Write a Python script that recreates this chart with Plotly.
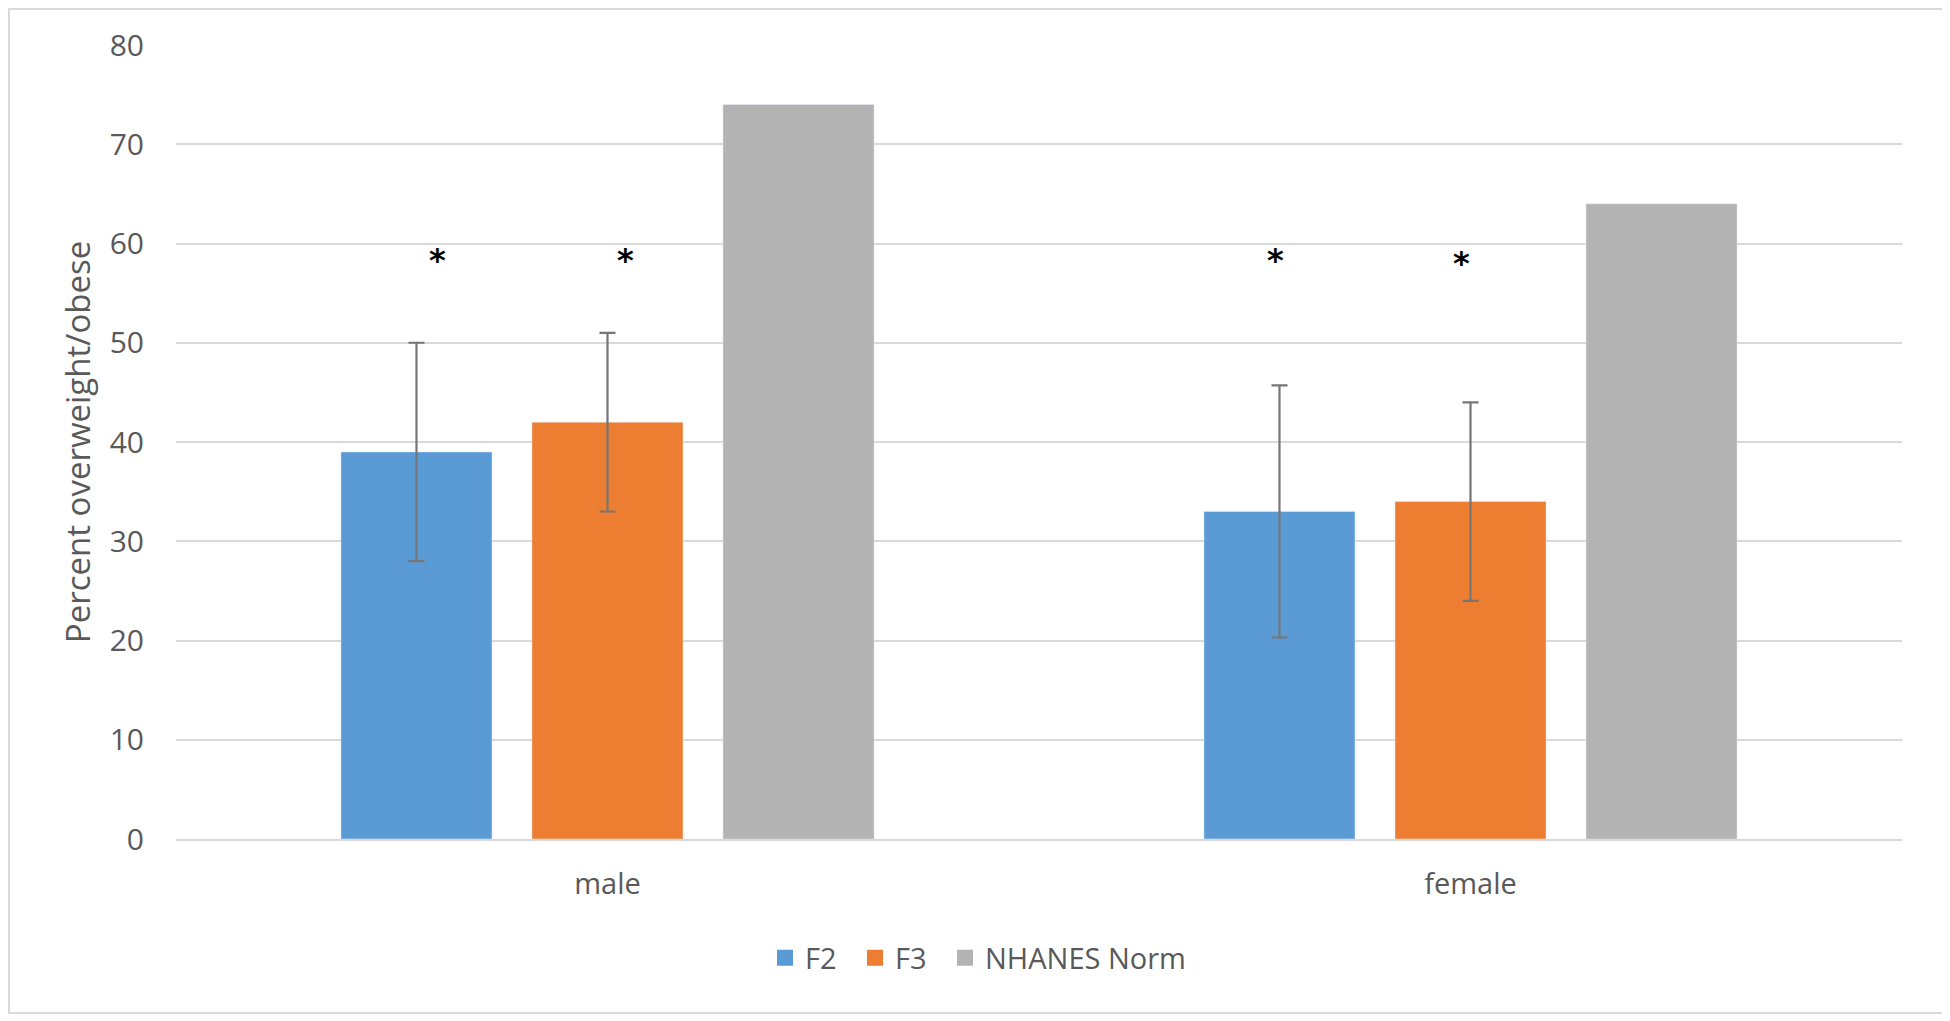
import plotly.graph_objects as go

categories = ["male", "female"]
series_names = ["F2", "F3", "NHANES Norm"]
f2_values = [39, 33]
f2_errors = [11, 12.7]
f3_values = [42, 34]
f3_errors = [9, 10]
nhanes_values = [74, 64]
colors = ["#5B9BD5", "#ED7D31", "#B3B3B3"]

# asterisk markers: (category, pixel shift from category centre, y value)
star_cat = ["male", "male", "female", "female"]
star_shift = [-170, 18, -195, -9]
star_y = [58.3, 58.3, 58.3, 58.0]

BODY = 8  # default page margin of the html body
W, H = 1950 - BODY, 1021 - BODY
ml, mr, mt, mb = 176 - BODY, 48, 45 - BODY, 182
pw, ph = W - ml - mr, H - mt - mb

font_family = "Open Sans, Segoe UI, sans-serif"
txt_col = "#595959"
err_col = "#767676"

fig = go.Figure()
fig.add_trace(go.Bar(name=series_names[0], x=categories, y=f2_values, marker_color=colors[0],
                     showlegend=False,
                     error_y=dict(type="data", array=f2_errors, visible=True, color=err_col,
                                  thickness=2.2, width=8)))
fig.add_trace(go.Bar(name=series_names[1], x=categories, y=f3_values, marker_color=colors[1],
                     showlegend=False,
                     error_y=dict(type="data", array=f3_errors, visible=True, color=err_col,
                                  thickness=2.2, width=8)))
fig.add_trace(go.Bar(name=series_names[2], x=categories, y=nhanes_values, marker_color=colors[2],
                     showlegend=False))

# legend entries with larger square swatches, one legend per entry for exact spacing
legend_ids = ["legend", "legend2", "legend3"]
for name, col, lid in zip(series_names, colors, legend_ids):
    fig.add_trace(go.Scatter(name=name, x=[None], y=[None], mode="markers",
                             marker=dict(symbol="square", size=18, color=col),
                             showlegend=True, legend=lid, hoverinfo="skip"))

for c, s, yv in zip(star_cat, star_shift, star_y):
    fig.add_annotation(x=c, y=yv, xref="x", yref="y", text="<b>*</b>", showarrow=False,
                       xshift=s, font=dict(size=32, color="#000000", family="DejaVu Sans"))

def px2x(px):
    return (px - BODY - ml) / pw

def px2y(py):
    return (H - mb - (py - BODY)) / ph

# outer chart border
fig.add_shape(type="rect", xref="paper", yref="paper",
              x0=px2x(BODY + 1), x1=px2x(1943), y0=px2y(1013), y1=px2y(BODY + 1),
              line=dict(color="#d9d9d9", width=2), fillcolor="rgba(0,0,0,0)", layer="below")

legend_base = dict(orientation="h", xanchor="left", y=px2y(958), yanchor="middle",
                   font=dict(size=29, color=txt_col), itemwidth=30, itemsizing="trace",
                   bgcolor="rgba(0,0,0,0)")
legend_left_px = [765, 855, 945]

fig.update_layout(
    width=W, height=H,
    margin=dict(l=ml, r=mr, t=mt, b=mb, pad=0),
    paper_bgcolor="white", plot_bgcolor="white",
    barmode="group", bargap=0.336, bargroupgap=0.209,
    font=dict(family=font_family, size=28, color=txt_col),
    showlegend=True,
    legend=dict(legend_base, x=px2x(legend_left_px[0])),
    legend2=dict(legend_base, x=px2x(legend_left_px[1])),
    legend3=dict(legend_base, x=px2x(legend_left_px[2])),
    xaxis=dict(showgrid=False, showline=True, linecolor="#d9d9d9", linewidth=2,
               ticks="outside", ticklen=18, tickcolor="rgba(0,0,0,0)",
               tickfont=dict(size=29, color=txt_col)),
    yaxis=dict(range=[0, 80], dtick=10, showgrid=True, gridcolor="#d9d9d9", gridwidth=2,
               zeroline=False, showline=False,
               ticks="outside", ticklen=25, tickcolor="rgba(0,0,0,0)",
               tickfont=dict(size=30, color=txt_col),
               title=dict(text="Percent overweight/obese", font=dict(size=33, color=txt_col),
                          standoff=9)),
)

fig.write_html("out.html")
